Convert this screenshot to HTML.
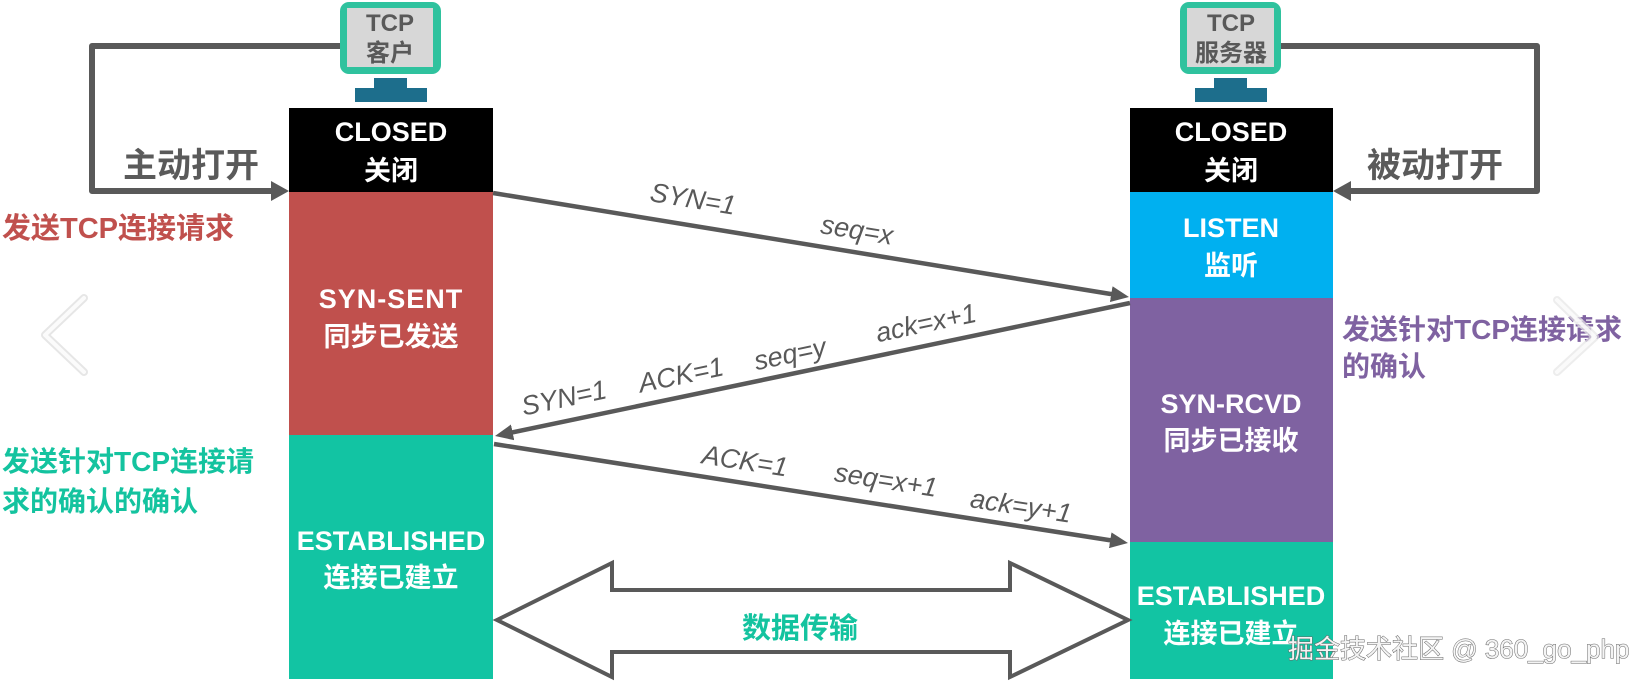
<!DOCTYPE html>
<html>
<head>
<meta charset="utf-8">
<style>
  html,body{margin:0;padding:0;background:#fff;}
  body{width:1642px;height:686px;overflow:hidden;}
  svg{display:block;}
  .cjk{font-family:"Liberation Sans","Noto Sans CJK SC",sans-serif;font-weight:bold;}
  .lbl{font-family:"Liberation Sans",sans-serif;font-style:italic;font-size:27px;fill:#595959;}
  .box{font-family:"Liberation Sans","Noto Sans CJK SC",sans-serif;font-weight:bold;font-size:27px;fill:#fff;}
</style>
</head>
<body>
<svg width="1642" height="686" viewBox="0 0 1642 686" xmlns="http://www.w3.org/2000/svg">
  <defs>
    <marker id="ah" viewBox="0 0 18 16" refX="8" refY="8" markerWidth="18" markerHeight="16" markerUnits="userSpaceOnUse" orient="auto">
      <path d="M0,0 L18,8 L0,16 z" fill="#595959"/>
    </marker>
    <marker id="ah2" viewBox="0 0 18 20" refX="8" refY="10" markerWidth="18" markerHeight="20" markerUnits="userSpaceOnUse" orient="auto">
      <path d="M0,0 L18,10 L0,20 z" fill="#595959"/>
    </marker>
  </defs>

  <!-- faint carousel chevrons -->
  <polyline points="84,298 45,335 84,372" fill="none" stroke="#e6e6e6" stroke-width="8" stroke-linecap="round" stroke-linejoin="round"/>
  <polyline points="84,298 45,335 84,372" fill="none" stroke="#fbfbfb" stroke-width="4" stroke-linecap="round" stroke-linejoin="round"/>

  <!-- loop lines -->
  <path d="M340,46 H92 V191 H279" fill="none" stroke="#595959" stroke-width="6" stroke-linejoin="round" marker-end="url(#ah2)"/>
  <path d="M1281,46 H1537 V191 H1343" fill="none" stroke="#595959" stroke-width="6" stroke-linejoin="round" marker-end="url(#ah2)"/>

  <!-- client monitor -->
  <rect x="340" y="2" width="101" height="72" rx="9" fill="#2fc29e"/>
  <rect x="347" y="8" width="86" height="59" fill="#d7d7d7"/>
  <rect x="374" y="78" width="33" height="11" fill="#1d6e8c"/>
  <rect x="355" y="88" width="72" height="14" fill="#1d6e8c"/>
  <text x="390" y="31" text-anchor="middle" class="cjk" font-size="24" fill="#595959">TCP</text>
  <text x="390" y="61" text-anchor="middle" class="cjk" font-size="24" fill="#595959">客户</text>

  <!-- server monitor -->
  <rect x="1180" y="2" width="101" height="72" rx="9" fill="#2fc29e"/>
  <rect x="1187" y="8" width="87" height="59" fill="#d7d7d7"/>
  <rect x="1214" y="78" width="33" height="11" fill="#1d6e8c"/>
  <rect x="1195" y="88" width="72" height="14" fill="#1d6e8c"/>
  <text x="1231" y="31" text-anchor="middle" class="cjk" font-size="24" fill="#595959">TCP</text>
  <text x="1231" y="61" text-anchor="middle" class="cjk" font-size="24" fill="#595959">服务器</text>

  <!-- left column -->
  <rect x="289" y="108" width="204" height="84" fill="#000"/>
  <rect x="289" y="192" width="204" height="243" fill="#c0504d"/>
  <rect x="289" y="435" width="204" height="244" fill="#12c4a3"/>
  <text x="391" y="141" text-anchor="middle" class="box">CLOSED</text>
  <text x="391" y="180" text-anchor="middle" class="box">关闭</text>
  <text x="391" y="308" text-anchor="middle" class="box" letter-spacing="1">SYN-SENT</text>
  <text x="391" y="346" text-anchor="middle" class="box">同步已发送</text>
  <text x="391" y="550" text-anchor="middle" class="box">ESTABLISHED</text>
  <text x="391" y="587" text-anchor="middle" class="box">连接已建立</text>

  <!-- right column -->
  <rect x="1130" y="108" width="203" height="84" fill="#000"/>
  <rect x="1130" y="192" width="203" height="106" fill="#00b0f0"/>
  <rect x="1130" y="298" width="203" height="244" fill="#7f62a1"/>
  <rect x="1130" y="542" width="203" height="137" fill="#12c4a3"/>
  <text x="1231" y="141" text-anchor="middle" class="box">CLOSED</text>
  <text x="1231" y="180" text-anchor="middle" class="box">关闭</text>
  <text x="1231" y="237" text-anchor="middle" class="box">LISTEN</text>
  <text x="1231" y="275" text-anchor="middle" class="box">监听</text>
  <text x="1231" y="413" text-anchor="middle" class="box">SYN-RCVD</text>
  <text x="1231" y="450" text-anchor="middle" class="box">同步已接收</text>
  <text x="1231" y="605" text-anchor="middle" class="box">ESTABLISHED</text>
  <text x="1231" y="643" text-anchor="middle" class="box">连接已建立</text>

  <!-- side texts -->
  <text x="123" y="177" class="cjk" font-size="34" fill="#5a5a5a">主动打开</text>
  <text x="1367" y="177" class="cjk" font-size="34" fill="#5a5a5a">被动打开</text>
  <text x="2" y="238" class="cjk" font-size="29" fill="#c0504d">发送TCP连接请求</text>
  <text x="2" y="471" class="cjk" font-size="28" fill="#14c39f">发送针对TCP连接请</text>
  <text x="2" y="511" class="cjk" font-size="28" fill="#14c39f">求的确认的确认</text>
  <text x="1342" y="339" class="cjk" font-size="28" fill="#7f62a1">发送针对TCP连接请求</text>
  <text x="1342" y="376" class="cjk" font-size="28" fill="#7f62a1">的确认</text>

  <!-- right chevron (over text) -->
  <polyline points="1557,300 1595,337 1557,372" fill="none" stroke="#e6e6e6" stroke-width="8" stroke-linecap="round" stroke-linejoin="round" opacity="0.7"/>
  <polyline points="1557,300 1595,337 1557,372" fill="none" stroke="#fbfbfb" stroke-width="4" stroke-linecap="round" stroke-linejoin="round" opacity="0.85"/>

  <!-- handshake arrows -->
  <line x1="493" y1="193" x2="1119.1" y2="295.4" stroke="#595959" stroke-width="4.5" marker-end="url(#ah)"/>
  <line x1="1130" y1="303" x2="504.8" y2="434" stroke="#595959" stroke-width="4.5" marker-end="url(#ah)"/>
  <line x1="494" y1="444" x2="1118.1" y2="541.5" stroke="#595959" stroke-width="4.5" marker-end="url(#ah)"/>

  <!-- labels arrow 1 -->
  <text class="lbl" text-anchor="middle" dominant-baseline="central" transform="translate(693,199) rotate(9.3)">SYN=1</text>
  <text class="lbl" text-anchor="middle" dominant-baseline="central" transform="translate(857,230) rotate(9.3)">seq=x</text>
  <!-- labels arrow 2 -->
  <text class="lbl" text-anchor="middle" dominant-baseline="central" transform="translate(564,398) rotate(-11.8)">SYN=1</text>
  <text class="lbl" text-anchor="middle" dominant-baseline="central" transform="translate(681,375) rotate(-11.8)">ACK=1</text>
  <text class="lbl" text-anchor="middle" dominant-baseline="central" transform="translate(790,354) rotate(-11.8)">seq=y</text>
  <text class="lbl" text-anchor="middle" dominant-baseline="central" transform="translate(926,323) rotate(-11.8)">ack=x+1</text>
  <!-- labels arrow 3 -->
  <text class="lbl" text-anchor="middle" dominant-baseline="central" transform="translate(745,461) rotate(8.9)">ACK=1</text>
  <text class="lbl" text-anchor="middle" dominant-baseline="central" transform="translate(886,480) rotate(8.9)">seq=x+1</text>
  <text class="lbl" text-anchor="middle" dominant-baseline="central" transform="translate(1021,506) rotate(8.9)">ack=y+1</text>

  <!-- data transfer double arrow -->
  <polygon points="497,620 612,563 612,590 1010,590 1010,563 1128,620 1010,677 1010,652 612,652 612,677" fill="#fff" stroke="#595959" stroke-width="4" stroke-linejoin="miter"/>
  <text x="800" y="638" text-anchor="middle" class="cjk" font-size="29" fill="#14c39f">数据传输</text>

  <!-- watermark -->
  <text x="1288" y="658" font-family="'Liberation Sans','Noto Sans CJK SC',sans-serif" font-size="26" fill="#f4f4f4" stroke="#666" stroke-width="1" paint-order="stroke">掘金技术社区 @ 360_go_php</text>
</svg>
</body>
</html>
